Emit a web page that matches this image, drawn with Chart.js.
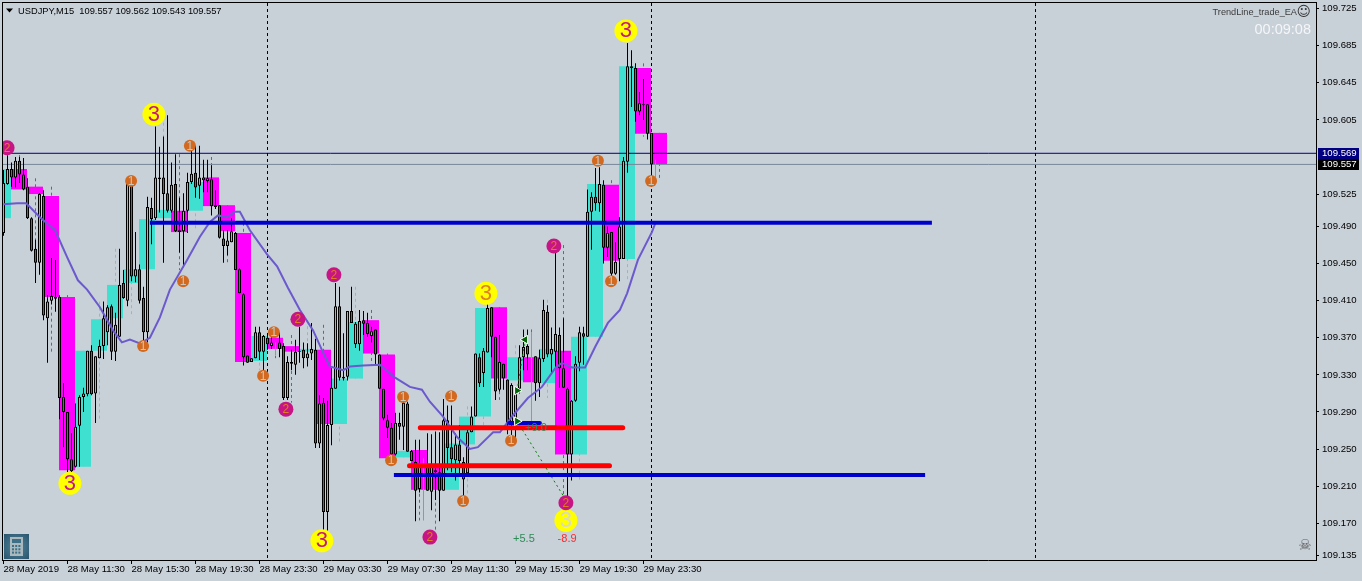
<!DOCTYPE html>
<html>
<head>
<meta charset="utf-8">
<title>USDJPY,M15</title>
<script src="https://cdn.jsdelivr.net/npm/chart.js@4/dist/chart.umd.min.js"></script>
<style>
html, body { margin: 0; padding: 0; background: #c8d0d8; overflow: hidden; }
canvas { display: block; }
</style>
</head>
<body>
<canvas id="chart" width="1362" height="581"></canvas>
<script>
// M15 candles
const candleOpen = [
  109.483,109.536,109.552,109.543,109.561,109.546,109.533,109.499,109.466,109.451,
  109.523,109.391,109.410,109.414,109.414,109.306,109.290,109.239,109.231,109.275,
  109.306,109.309,109.356,109.310,109.348,109.361,109.376,109.404,109.355,109.371,
  109.429,109.410,109.536,109.436,109.444,109.413,109.376,109.510,109.499,109.543,
  109.543,109.526,109.507,109.536,109.486,109.485,109.507,109.538,109.548,109.534,
  109.540,109.539,109.541,109.513,109.513,109.477,109.469,109.473,109.483,109.444,
  109.417,109.351,109.344,109.348,109.376,109.355,109.370,109.361,109.361,109.365,
  109.361,109.305,109.344,109.341,109.355,109.357,109.348,109.353,109.357,109.256,
  109.300,109.182,109.276,109.315,109.404,109.328,109.328,109.399,109.363,109.363,
  109.389,109.386,109.372,109.379,109.352,109.315,109.281,109.273,109.244,109.278,
  109.274,109.299,109.248,109.236,109.207,109.217,109.232,109.204,109.227,109.225,
  109.205,109.281,109.252,109.238,109.255,109.236,109.224,109.268,109.285,109.349,
  109.332,109.354,109.403,109.371,109.314,109.342,109.325,109.278,109.278,109.315,
  109.349,109.361,109.351,109.350,109.321,109.347,109.398,109.352,109.355,109.373,
  109.337,109.315,109.244,109.302,109.343,109.375,109.371,109.506,109.522,109.515,
  109.535,109.467,109.484,109.439,109.455,109.455,109.560,109.661,109.661,109.614,
  109.622,109.622,109.591,109.557
];
const candleHigh = [
  109.551,109.567,109.559,109.565,109.565,109.564,109.542,109.500,109.476,109.526,
  109.529,109.416,109.456,109.454,109.416,109.321,109.290,109.267,109.299,109.308,
  109.316,109.356,109.362,109.350,109.368,109.409,109.405,109.406,109.397,109.466,
  109.443,109.537,109.537,109.484,109.449,109.425,109.522,109.521,109.598,109.576,
  109.587,109.610,109.559,109.568,109.521,109.526,109.548,109.576,109.577,109.577,
  109.562,109.562,109.556,109.529,109.513,109.486,109.486,109.499,109.484,109.445,
  109.418,109.351,109.348,109.382,109.382,109.373,109.372,109.372,109.365,109.376,
  109.364,109.350,109.357,109.368,109.382,109.365,109.364,109.386,109.369,109.308,
  109.305,109.302,109.337,109.429,109.425,109.375,109.399,109.425,109.387,109.400,
  109.399,109.397,109.382,109.379,109.352,109.315,109.287,109.278,109.289,109.289,
  109.302,109.301,109.249,109.260,109.260,109.240,109.267,109.266,109.269,109.268,
  109.304,109.297,109.297,109.267,109.276,109.241,109.274,109.296,109.353,109.353,
  109.359,109.418,109.403,109.371,109.373,109.342,109.325,109.321,109.316,109.362,
  109.379,109.379,109.376,109.350,109.357,109.411,109.405,109.381,109.462,109.381,
  109.391,109.316,109.303,109.350,109.382,109.382,109.530,109.527,109.553,109.554,
  109.540,109.490,109.484,109.473,109.500,109.565,109.688,109.680,109.666,109.635,
  109.649,109.622,109.591,109.562
];
const candleLow = [
  109.480,109.535,109.533,109.532,109.537,109.529,109.498,109.463,109.429,109.438,
  109.389,109.343,109.406,109.398,109.282,109.252,109.225,109.225,109.230,109.231,
  109.290,109.307,109.308,109.278,109.348,109.347,109.362,109.346,109.345,109.371,
  109.412,109.404,109.431,109.430,109.407,109.365,109.365,109.471,109.497,109.505,
  109.451,109.505,109.505,109.484,109.462,109.446,109.483,109.536,109.521,109.520,
  109.527,109.527,109.502,109.509,109.477,109.451,109.459,109.473,109.443,109.418,
  109.340,109.343,109.344,109.348,109.346,109.335,109.357,109.358,109.351,109.349,
  109.303,109.303,109.335,109.330,109.343,109.337,109.339,109.346,109.251,109.251,
  109.152,109.162,109.254,109.315,109.324,109.324,109.324,109.386,109.359,109.356,
  109.373,109.371,109.365,109.341,109.315,109.281,109.262,109.235,109.243,109.260,
  109.249,109.247,109.237,109.172,109.203,109.173,109.205,109.184,109.195,109.172,
  109.205,109.227,109.225,109.216,109.224,109.197,109.224,109.268,109.285,109.317,
  109.317,109.354,109.349,109.303,109.312,109.314,109.266,109.257,109.260,109.310,
  109.335,109.335,109.279,109.302,109.306,109.344,109.349,109.331,109.339,109.316,
  109.316,109.195,109.216,109.301,109.334,109.341,109.371,109.465,109.507,109.506,
  109.450,109.457,109.432,109.438,109.431,109.455,109.548,109.619,109.603,109.610,
  109.605,109.584,109.533,109.543
];
const candleClose = [
  109.537,109.552,109.543,109.561,109.546,109.530,109.499,109.464,109.451,109.525,
  109.394,109.409,109.415,109.412,109.305,109.290,109.239,109.226,109.274,109.306,
  109.310,109.356,109.309,109.350,109.361,109.391,109.403,109.355,109.384,109.427,
  109.413,109.537,109.436,109.444,109.410,109.376,109.511,109.498,109.543,109.541,
  109.525,109.507,109.535,109.485,109.484,109.507,109.538,109.547,109.532,109.543,
  109.543,109.542,109.512,109.511,109.478,109.469,109.475,109.485,109.443,109.418,
  109.349,109.343,109.348,109.376,109.355,109.372,109.363,109.365,109.361,109.358,
  109.305,109.344,109.342,109.355,109.356,109.348,109.353,109.358,109.256,109.299,
  109.182,109.276,109.316,109.404,109.327,109.326,109.399,109.386,109.385,109.388,
  109.385,109.374,109.377,109.352,109.315,109.283,109.273,109.244,109.278,109.274,
  109.300,109.247,109.237,109.205,109.231,109.217,109.205,109.232,109.225,109.205,
  109.281,109.251,109.239,109.255,109.237,109.217,109.268,109.285,109.353,109.321,
  109.356,109.402,109.371,109.312,109.344,109.326,109.278,109.319,109.310,109.349,
  109.360,109.352,109.351,109.321,109.348,109.400,109.352,109.358,109.374,109.337,
  109.316,109.244,109.302,109.342,109.376,109.371,109.506,109.522,109.515,109.536,
  109.467,109.483,109.439,109.452,109.490,109.561,109.663,109.663,109.614,109.623,
  109.621,109.590,109.557,109.557
];

// H1 boxes behind the candles
const hourTop = [109.552,109.552,109.533,109.523,109.414,109.356,109.390,109.427,109.444,109.498,109.508,109.507,109.538,109.543,109.513,109.483,109.372,109.370,109.361,109.358,109.357,109.326,109.387,109.389,109.352,109.248,109.249,109.231,109.256,109.285,109.402,109.403,109.349,109.349,109.358,109.356,109.371,109.536,109.535,109.663,109.661,109.591];
const hourBottom = [109.499,109.530,109.525,109.414,109.227,109.231,109.356,109.391,109.429,109.444,109.499,109.484,109.507,109.512,109.485,109.344,109.345,109.358,109.355,109.355,109.277,109.277,109.326,109.353,109.240,109.241,109.206,109.206,109.206,109.255,109.285,109.326,109.324,109.322,109.321,109.244,109.244,109.371,109.453,109.455,109.590,109.557];
const hourUp = [1,0,0,0,0,1,1,1,1,1,1,0,1,0,0,0,1,0,0,1,0,1,1,0,0,1,0,0,1,1,1,0,1,0,1,0,1,1,0,1,0,0];
const hourHigh = [109.552,109.567,109.542,109.533,109.416,109.356,109.409,109.466,109.444,109.498,109.602,109.568,109.569,109.565,109.513,109.494,109.382,109.370,109.373,109.389,109.384,109.326,109.425,109.400,109.353,109.300,109.260,109.231,109.256,109.296,109.402,109.403,109.362,109.379,109.411,109.470,109.382,109.536,109.540,109.663,109.666,109.591];
const hourLow = [109.499,109.530,109.476,109.355,109.227,109.231,109.281,109.391,109.394,109.444,109.451,109.443,109.486,109.502,109.451,109.344,109.335,109.348,109.300,109.339,109.277,109.256,109.326,109.341,109.240,109.241,109.173,109.163,109.206,109.200,109.274,109.303,109.324,109.322,109.305,109.198,109.217,109.371,109.453,109.432,109.587,109.541];

// moving average
const maIndex = [0,3.4,5.6,6.6,9.1,12.9,15.9,18.6,20.9,24.1,27.4,29.6,31.6,34.1,36.6,39.1,41.6,45.9,49.1,51.6,53.6,55.9,57.9,59.1,61.6,65.9,68.4,71.1,74.1,77.4,79.6,81.6,84.9,86.6,89.9,94.1,97.9,101.6,104.6,106.6,109.9,113.4,116.6,118.6,122.4,124.1,127.1,131.1,134.6,137.9,139.6,142.1,145.4,147.9,151.1,154.1,155.9,158.6,162.1,162.9];
const maPrice = [109.514,109.515,109.515,109.511,109.500,109.486,109.457,109.432,109.422,109.403,109.378,109.365,109.368,109.364,109.370,109.392,109.422,109.454,109.479,109.495,109.502,109.500,109.506,109.506,109.486,109.460,109.447,109.424,109.400,109.378,109.357,109.339,109.335,109.339,109.340,109.341,109.327,109.317,109.314,109.301,109.285,109.263,109.250,109.252,109.268,109.268,109.285,109.305,109.317,109.337,109.343,109.338,109.338,109.360,109.386,109.400,109.418,109.454,109.484,109.493];

// horizontal levels: price, from index, to index
const blueLevels = [[109.494,36.6,232.1],[109.222,97.6,230.4]];
const shortBlueLevel = [109.278,126.4,134.1];
const redLevels = [[109.273,104.2,154.8],[109.232,101.5,151.5]];
const askPrice = 109.569;
const bidPrice = 109.557;
const daySeparators = [66,162,258];

// trades
const tradeLines = [[128.4,109.280,140.6,109.195],[128.4,109.313,130.4,109.368]];
const arrowIndex = [128.4,128.4,130.4,141.1];
const arrowPrice = [109.313,109.280,109.368,109.192];
const arrowAngle = [90,90,-90,-90];
const tradeTexts = [['+9.0',133.1,109.273,'#2e8b57'],['+5.5',130.1,109.153,'#2e8b57'],['-8.9',140.9,109.153,'#ff2a2a']];

// numbered swing marks
const markIndex = [37.6,16.6,79.6,120.6,140.6,155.6, 0.9,82.6,73.6,70.6,106.6,137.6,140.6, 31.9,46.6,44.9,34.9,64.9,67.6,99.9,96.9,111.9,114.9,126.9,148.6,151.9,161.9];
const markPrice = [109.611,109.213,109.151,109.418,109.173,109.701, 109.575,109.438,109.390,109.293,109.155,109.469,109.192, 109.539,109.577,109.431,109.361,109.329,109.376,109.306,109.238,109.307,109.194,109.259,109.561,109.431,109.539];
const markNumber = [3,3,3,3,3,3, 2,2,2,2,2,2,2, 1,1,1,1,1,1,1,1,1,1,1,1,1,1];
const markInk = ['#c71585','#c71585','#c71585','#e08020','#d8d8d0','#c71585'];

// axes
const priceTicks = [109.725,109.685,109.645,109.605,109.525,109.490,109.450,109.410,109.370,109.330,109.290,109.250,109.210,109.170,109.135];
const timeTickIndex = [0,16,32,48,64,80,96,112,128,144,160];
const timeTickLabels = ['28 May 2019','28 May 11:30','28 May 15:30','28 May 19:30','28 May 23:30','29 May 03:30','29 May 07:30','29 May 11:30','29 May 15:30','29 May 19:30','29 May 23:30'];

const TEXT_FONT = '"Liberation Sans", sans-serif';
const AQUA = '#40e0d0';
const MAGENTA = '#ff00ff';

function floatBar(lows, highs, xs) {
  return lows.map((v, i) => ({ x: xs ? xs[i] : i, y: [v, highs[i]] }));
}

function segments(list) {
  const out = [];
  list.forEach(s => {
    out.push({ x: s[1], y: s[0] }, { x: s[2], y: s[0] }, { x: s[2], y: null });
  });
  return out;
}

function barSet(data, thickness, order, colors, extra) {
  return Object.assign({
    type: 'bar',
    data: data,
    grouped: false,
    barPercentage: 1000,
    maxBarThickness: thickness,
    order: order,
    backgroundColor: colors,
    borderWidth: 0,
    borderSkipped: false,
    inflateAmount: 0
  }, extra || {});
}

function lineSet(data, color, width, order, extra) {
  return Object.assign({
    type: 'line',
    data: data,
    borderColor: color,
    borderWidth: width,
    order: order,
    pointRadius: 0,
    tension: 0,
    fill: false,
    spanGaps: false
  }, extra || {});
}

// H1 high/low dashes
const hourX = hourTop.map((v, k) => k * 4);
const boxX = hourTop.map((v, k) => k * 4 - 0.125);
const dashUp = [], dashDown = [];
hourTop.forEach((v, k) => {
  const target = hourUp[k] ? dashUp : dashDown;
  target.push({ x: hourX[k], y: hourHigh[k] }, { x: hourX[k], y: hourLow[k] }, { x: hourX[k], y: null });
});

const separatorPoints = [];
daySeparators.forEach(x => {
  separatorPoints.push({ x: x, y: 109.7311 }, { x: x, y: 109.1303 }, { x: x, y: null });
});

const tradePoints = [];
tradeLines.forEach(t => {
  tradePoints.push({ x: t[0], y: t[1] }, { x: t[2], y: t[3] }, { x: t[2], y: null });
});

const candleBottom = candleOpen.map((v, i) => Math.min(v, candleClose[i]));
const candleTop = candleOpen.map((v, i) => Math.max(v, candleClose[i]));
const candleFill = candleOpen.map((v, i) => candleClose[i] >= v ? AQUA : MAGENTA);
const wickColor = candleOpen.map((v, i) => candleClose[i] === v ? '#00ff00' : '#000000');

const markRadius = { 1: 6, 2: 7.5, 3: 11.5 };
const markFill = { 1: '#d2691e', 2: '#c71585', 3: '#ffff00' };

// text and small furniture the scales do not draw
const overlay = {
  id: 'overlay',
  afterDatasetsDraw(chart) {
    const ctx = chart.ctx;
    const xs = chart.scales.x, ys = chart.scales.y;
    ctx.save();
    ctx.textBaseline = 'middle';

    // swing mark numbers
    const marks = chart.getDatasetMeta(chart.data.datasets.length - 1);
    ctx.textAlign = 'center';
    marks.data.forEach((pt, i) => {
      const n = markNumber[i];
      ctx.font = (n === 3 ? '22px ' : '12px ') + TEXT_FONT;
      ctx.fillStyle = n === 3 ? markInk[i] : (n === 2 ? '#e07a20' : '#c8c8c0');
      ctx.fillText(String(n), pt.x, pt.y + 0.5);
    });

    // trade results
    ctx.font = '11px ' + TEXT_FONT;
    tradeTexts.forEach(t => {
      ctx.fillStyle = t[3];
      ctx.fillText(t[0], xs.getPixelForValue(t[1]), ys.getPixelForValue(t[2]));
    });

    // left edge of the clipped first mark stays off the axis strip
    ctx.fillStyle = '#c8d0d8';
    ctx.fillRect(0, 0, chart.chartArea.left - 1, 581);

    // frame
    ctx.fillStyle = '#000000';
    ctx.fillRect(chart.chartArea.left - 1, chart.chartArea.top - 1, 1, chart.chartArea.bottom - chart.chartArea.top + 2);
    ctx.fillRect(chart.chartArea.left - 1, chart.chartArea.top - 1, chart.chartArea.right - chart.chartArea.left + 2, 1);

    // header
    ctx.textAlign = 'left';
    ctx.font = '9.3px ' + TEXT_FONT;
    ctx.fillText('USDJPY,M15  109.557 109.562 109.543 109.557', 18, 11);
    ctx.beginPath();
    ctx.moveTo(6, 8.5); ctx.lineTo(13, 8.5); ctx.lineTo(9.5, 12.5); ctx.closePath();
    ctx.fill();

    // EA name, smiley and timer
    ctx.textAlign = 'right';
    ctx.fillStyle = '#3c3c3c';
    ctx.font = '9.2px ' + TEXT_FONT;
    ctx.fillText('TrendLine_trade_EA', 1297, 12);
    ctx.font = '14px "DejaVu Sans"';
    ctx.fillStyle = '#333333';
    ctx.fillText('\u263A', 1311, 12);
    ctx.font = '14.5px ' + TEXT_FONT;
    ctx.fillStyle = '#f4f6f8';
    ctx.fillText('00:09:08', 1311, 30);

    // skull
    ctx.textAlign = 'center';
    ctx.font = '15px "DejaVu Sans"';
    ctx.fillStyle = '#606060';
    ctx.fillText('\u2620', 1305, 546);

    // calculator button
    const grad = ctx.createRadialGradient(16.5, 546.5, 2, 16.5, 546.5, 17);
    grad.addColorStop(0, '#4d8199');
    grad.addColorStop(1, '#2a566e');
    ctx.fillStyle = grad;
    ctx.fillRect(4, 534, 25, 25);
    ctx.fillStyle = '#a9b9bd';
    ctx.fillRect(10, 537, 13, 19);
    ctx.fillStyle = '#3d6f86';
    ctx.fillRect(12, 539, 9, 4);
    for (let r = 0; r < 3; r++) {
      for (let c = 0; c < 3; c++) {
        ctx.fillRect(12 + c * 3.2, 545 + r * 3.3, 2, 2);
      }
    }

    // current price tags on the axis
    ctx.textAlign = 'left';
    ctx.font = '9.6px ' + TEXT_FONT;
    const askY = Math.round(ys.getPixelForValue(askPrice));
    const bidY = Math.round(ys.getPixelForValue(bidPrice));
    ctx.fillStyle = '#000080';
    ctx.fillRect(1318, askY - 5, 41, 11);
    ctx.fillStyle = '#000000';
    ctx.fillRect(1318, bidY - 5, 41, 11);
    ctx.fillStyle = '#ffffff';
    ctx.fillText(askPrice.toFixed(3), 1322, askY + 0.5);
    ctx.fillText(bidPrice.toFixed(3), 1322, bidY + 0.5);
    ctx.restore();
  }
};

new Chart(document.getElementById('chart'), {
  type: 'bar',
  data: {
    datasets: [
      lineSet(dashUp, AQUA, 1, 20, { borderDash: [3, 3] }),
      lineSet(dashDown, MAGENTA, 1, 20, { borderDash: [3, 3] }),
      barSet(floatBar(hourBottom, hourTop, boxX), 16, 19, hourUp.map(u => u ? AQUA : MAGENTA)),
      lineSet(separatorPoints, '#000000', 1, 18, { borderDash: [3, 3] }),
      lineSet([{ x: -1, y: askPrice }, { x: 329, y: askPrice }], '#000080', 1, 18),
      lineSet([{ x: -1, y: bidPrice }, { x: 329, y: bidPrice }], '#778899', 1, 18),
      barSet(floatBar(candleLow, candleHigh), 1, 12, wickColor),
      barSet(floatBar(candleBottom, candleTop), 3, 11, candleFill, { borderWidth: 1, borderColor: '#000000' }),
      lineSet(maIndex.map((x, i) => ({ x: x, y: maPrice[i] })), '#6a5acd', 2, 9),
      lineSet(tradePoints, '#008000', 1, 8, { borderDash: [2, 3] }),
      lineSet(segments(blueLevels), '#0000cd', 4, 7),
      lineSet(segments([shortBlueLevel]), '#0000cd', 4, 7, { borderCapStyle: 'round' }),
      lineSet(segments(redLevels), '#ff0000', 5, 6, { borderCapStyle: 'round' }),
      lineSet(arrowIndex.map((x, i) => ({ x: x, y: arrowPrice[i] })), '#006400', 0, 4, {
        showLine: false,
        pointStyle: 'triangle',
        pointRadius: 5,
        pointRotation: arrowAngle,
        pointBackgroundColor: '#006400',
        pointBorderColor: '#ffffff',
        pointBorderWidth: 1
      }),
      lineSet(markIndex.map((x, i) => ({ x: x, y: markPrice[i] })), '#000000', 0, 2, {
        showLine: false,
        pointStyle: 'circle',
        pointRadius: markNumber.map(n => markRadius[n]),
        pointBackgroundColor: markNumber.map(n => markFill[n]),
        pointBorderWidth: 0
      })
    ]
  },
  options: {
    responsive: false,
    animation: false,
    devicePixelRatio: 1,
    layout: { autoPadding: false, padding: { left: 3, top: 3, right: 0, bottom: 0 } },
    plugins: { legend: { display: false }, tooltip: { enabled: false } },
    events: [],
    scales: {
      x: {
        type: 'linear',
        offset: false,
        min: -0.125,
        max: 328.125,
        grid: { display: true, drawOnChartArea: false, drawTicks: true, tickLength: 4, color: '#000000', offset: false },
        border: { display: true, color: '#000000', width: 1 },
        afterBuildTicks(scale) { scale.ticks = timeTickIndex.map(v => ({ value: v })); },
        afterFit(scale) { scale.height = 21; scale.paddingLeft = 0; scale.paddingRight = 0; },
        ticks: {
          autoSkip: false,
          maxRotation: 0,
          align: 'start',
          padding: 0,
          color: '#000000',
          font: { family: TEXT_FONT, size: 9.6 },
          callback(value) { return timeTickLabels[timeTickIndex.indexOf(value)]; }
        }
      },
      y: {
        position: 'right',
        min: 109.1303,
        max: 109.7311,
        grid: { display: true, drawOnChartArea: false, drawTicks: true, tickLength: 3, color: '#000000' },
        border: { display: true, color: '#000000', width: 1 },
        afterBuildTicks(scale) { scale.ticks = priceTicks.map(v => ({ value: v })); },
        afterFit(scale) { scale.width = 46; scale.paddingTop = 0; scale.paddingBottom = 0; },
        ticks: {
          autoSkip: false,
          padding: 3,
          color: '#000000',
          font: { family: TEXT_FONT, size: 9.6 },
          callback(value) { return value.toFixed(3); }
        }
      }
    }
  },
  plugins: [overlay]
});
</script>
</body>
</html>
